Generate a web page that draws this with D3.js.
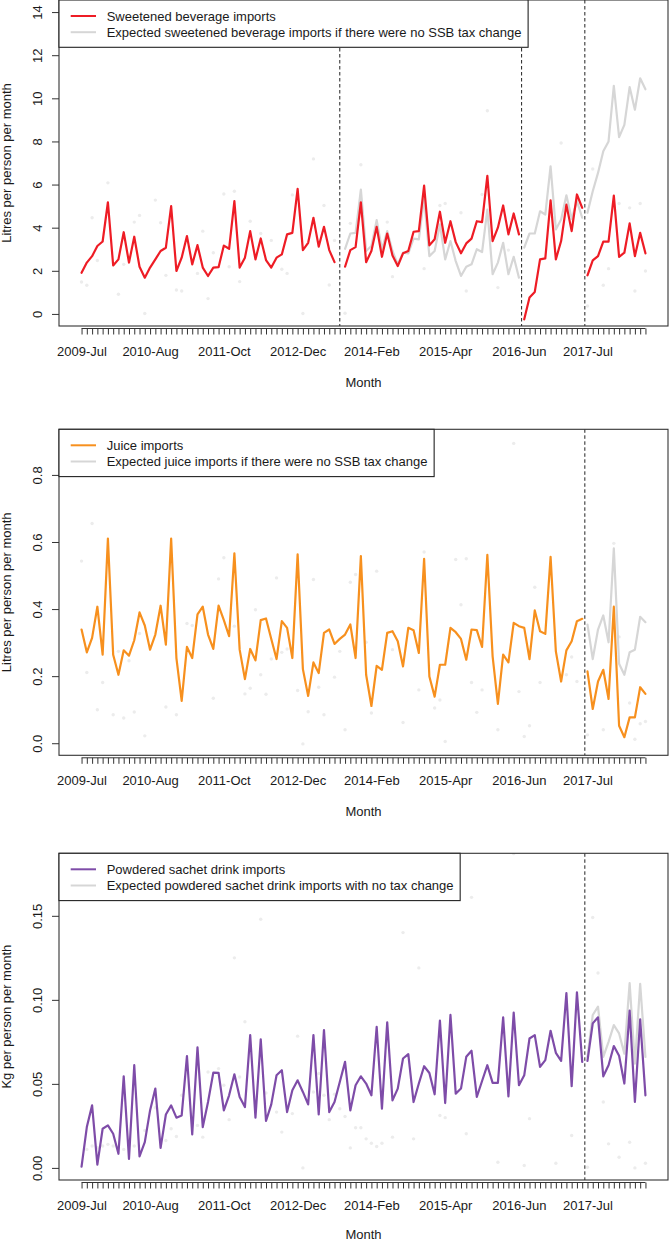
<!DOCTYPE html>
<html><head><meta charset="utf-8">
<script src="https://cdn.jsdelivr.net/npm/d3@7"></script>
<style>
body{margin:0;background:#fff}
text{font-family:"Liberation Sans",Arial,Helvetica,sans-serif;fill:#1a1a1a}
</style>
</head><body>
<svg id="chart" width="669" height="1240"></svg>
<script>
// ---------- categories ----------
const months = d3.timeMonth.range(new Date(2009,6,1), new Date(2018,6,1)).map(d3.timeFormat("%Y-%b"));
const tickLabels = ["2009-Jul","2010-Aug","2011-Oct","2012-Dec","2014-Feb","2015-Apr","2016-Jun","2017-Jul"];

// ---------- panel 1: sweetened beverages (litres / person / month) ----------
const sweetened = [1.91,2.38,2.68,3.15,3.36,5.18,2.25,2.53,3.79,2.38,3.58,2.19,1.68,2.15,2.53,2.92,3.07,5.0,1.99,2.61,3.61,2.3,3.19,2.15,1.76,2.15,2.17,3.17,3.02,5.23,2.15,2.61,3.84,2.53,3.5,2.5,2.15,2.61,2.76,3.69,3.76,5.8,2.96,3.3,4.46,3.12,4.04,2.96,2.4,null,
2.19,2.96,3.1,5.18,2.4,2.92,4.04,2.65,3.73,2.71,2.22,2.81,2.92,3.81,3.84,5.95,3.18,3.46,4.74,3.3,4.3,3.33,2.81,3.27,3.49,4.3,4.26,6.4,3.38,4.0,5.03,3.69,4.66,3.69,
-0.25,0.76,1.02,2.53,2.58,5.27,2.53,3.38,5.07,3.84,5.54,4.92,
1.79,2.48,2.68,3.35,3.35,5.49,2.65,2.84,4.2,2.68,3.76,2.81];
const expectedSweetened = [null,null,null,null,null,null,null,null,null,null,null,null,null,null,null,null,null,null,null,null,null,null,null,null,null,null,null,null,null,null,null,null,null,null,null,null,null,null,null,null,null,null,null,null,null,null,null,null,null,null,
3.02,3.73,3.76,5.77,2.92,3.15,4.35,3.0,3.84,2.92,2.3,2.84,2.81,3.49,3.46,5.38,2.68,2.92,4.15,2.53,3.38,2.45,1.76,2.19,2.3,3.0,2.87,4.84,1.84,2.38,3.3,1.84,2.65,1.68,
3.07,3.73,3.73,4.76,4.61,6.85,3.92,4.38,5.5,4.41,5.23,4.46,
4.69,5.69,6.54,7.54,8.0,10.58,8.2,8.77,10.52,9.47,10.93,10.42];
const faintSweetened = [[0,1.48],[1,1.33],[2,4.46],[3,2.48],[5,6.08],[7,0.91],[8,2.3],[10,4.26],[11,4.57],[12,0.02],[14,5.28],[15,4.23],[16,1.79],[18,1.11],[19,1.06],[22,1.88],[23,3.84],[24,0.71],[25,2.84],[27,5.56],[28,2.19],[29,5.69],[30,1.5],[32,4.3],[34,3.73],[36,3.41],[38,2.07],[39,1.88],[40,5.52],[42,0.02],[44,7.19],[46,5.03],[47,1.34],[48,3.41],[50,0.03],[51,4.2],[53,6.92],[58,4.26],[59,1.73],[65,2.1],[68,5.03],[69,5.12],[72,4.69],[73,1.06],[76,5.54],[77,9.42],[79,1.22],[81,2.96],[91,7.93],[96,0.37],[97,6.72],[99,1.33],[100,2.1],[102,5.12],[104,4.92],[105,1.06],[106,5.12],[107,1.99]];
const yTicks1 = [0,2,4,6,8,10,12,14];

// ---------- panel 2: juice (litres / person / month) ----------
const juice = [0.339,0.271,0.314,0.407,0.264,0.61,0.264,0.204,0.277,0.261,0.307,0.39,0.351,0.279,0.324,0.41,0.294,0.61,0.254,0.126,0.287,0.254,0.384,0.407,0.324,0.281,0.41,0.367,0.319,0.566,0.279,0.191,0.281,0.247,0.367,0.372,0.311,0.251,0.364,0.344,0.254,0.563,0.221,0.141,0.241,0.209,0.329,0.339,0.296,0.311,0.324,0.354,0.254,0.558,0.204,0.111,0.231,0.219,0.329,0.334,0.304,0.229,0.344,0.337,0.269,0.55,0.199,0.139,0.234,0.234,0.344,0.331,0.311,0.249,0.339,0.337,0.287,0.562,0.259,0.117,0.264,0.241,0.359,0.349,0.344,0.251,0.396,0.334,0.326,0.556,0.274,0.184,0.277,0.304,0.364,0.371,
0.214,0.102,0.184,0.219,0.132,0.407,0.052,0.018,0.077,0.077,0.167,0.147];
const expectedJuice = Array(96).fill(null).concat([0.354,0.251,0.339,0.381,0.301,0.581,0.237,0.204,0.271,0.279,0.377,0.361]);
const faintJuice = [[0,0.543],[1,0.211],[2,0.655],[3,0.1],[4,0.181],[6,0.085],[7,0.274],[8,0.075],[9,0.246],[10,0.093],[11,0.327],[12,0.022],[16,0.108],[18,0.085],[20,0.357],[21,0.351],[25,0.134],[26,0.49],[27,0.553],[29,0.349],[31,0.147],[32,0.164],[33,0.398],[34,0.204],[35,0.146],[36,0.251],[37,0.493],[38,0.271],[39,0.281],[41,0.157],[42,-0.002],[43,0.094],[44,0.488],[45,0.167],[46,0.085],[48,0.197],[49,0.274],[50,0.04],[51,0.48],[52,0.503],[54,0.301],[55,0.09],[56,0.513],[59,0.279],[61,0.062],[64,0.159],[65,0.57],[67,0.105],[68,0.129],[69,0.005],[71,0.548],[72,0.413],[73,0.55],[74,0.181],[75,0.092],[76,0.159],[79,0.04],[82,0.894],[83,0.154],[84,0.02],[85,0.052],[86,0.465],[87,0.181],[92,0.204],[93,0.257],[94,0.184],[96,0.025],[99,0.04],[101,0.596],[102,0.317],[104,0.12],[105,0.012],[106,0.058],[107,0.065]];
const yTicks2 = [0,0.2,0.4,0.6,0.8];

// ---------- panel 3: powdered sachet drinks (kg / person / month) ----------
const powder = [0.0008,0.0243,0.0372,0.002,0.0233,0.0253,0.0203,0.0084,0.0545,0.0054,0.0611,0.0068,0.0153,0.0342,0.0472,0.0119,0.0318,0.0372,0.0299,0.0312,0.0665,0.0199,0.0717,0.0243,0.0392,0.0567,0.0565,0.0342,0.0432,0.0557,0.0422,0.0362,0.079,0.0299,0.0765,0.0279,0.0378,0.0551,0.0581,0.0332,0.0462,0.0521,0.0452,0.0378,0.079,0.0318,0.082,0.0332,0.0392,0.0511,0.0631,0.0342,0.0492,0.0545,0.0502,0.0432,0.084,0.0352,0.0866,0.0402,0.0472,0.0651,0.0677,0.0392,0.0502,0.0605,0.0565,0.0438,0.0876,0.0386,0.091,0.0442,0.0472,0.0661,0.0697,0.0422,0.0517,0.0611,0.0506,0.0506,0.0896,0.0426,0.0924,0.0492,0.0551,0.077,0.079,0.0601,0.0641,0.0816,0.0685,0.0637,0.104,0.0486,0.1045,0.0631,
0.0637,0.086,0.0896,0.0545,0.0611,0.0725,0.0667,0.0502,0.0936,0.0392,0.0884,0.0432];
const expectedPowder = Array(96).fill(null).concat([0.066,0.091,0.096,0.066,0.075,0.085,0.08,0.068,0.110,0.062,0.1095,0.066]);
const faintPowder = [[1,0.011],[2,0.013],[3,0.012],[4,0.013],[5,0.014],[6,0.013],[7,0.012],[8,0.011],[10,0.013],[12,0.0223],[14,0.0358],[16,0.0163],[17,0.0233],[18,0.0187],[19,0.0432],[22,0.0253],[23,0.0183],[24,0.0571],[26,0.0591],[27,0.0492],[28,0.0287],[29,0.125],[30,0.0541],[31,0.087],[34,0.148],[35,0.0446],[37,0.0332],[38,0.0213],[40,0.0323],[41,0.0784],[42,0],[44,0.0452],[45,0.0562],[46,0.0432],[47,0.0287],[48,0.0438],[49,0.0352],[50,0.0306],[51,0.0119],[52,0.0239],[53,0.0239],[54,0.0173],[55,0.0147],[56,0.0127],[57,0.0147],[59,0.0183],[61,0.14],[63,0.0173],[64,0.119],[68,0.0312],[69,0.0299],[73,0.0203],[74,0.161],[79,0.0034],[82,0.187],[84,0.0014],[85,0.0293],[90,0.0028],[93,0.0193],[96,0.0004],[97,0.149],[98,0.116],[99,0.0392],[100,0.0143],[102,0.0063],[104,0.0153],[105,0],[107,0.0028]];
const yTicks3 = [0,0.05,0.10,0.15];

// ---------- styling / layout ----------
const W = 669, H = 1240, L = 59, R = 668;
const grayLine = "#d6d6d6", faintCol = "#ececec";
const panels = [
  {top:0, bottom:326, ylim:[0,14], ticks:yTicks1, fmt:d3.format("d"), ytitle:"Litres per person per month",
   actual:sweetened, expected:expectedSweetened, faint:faintSweetened, color:"#ee1c25",
   breaks:[83,95], vlines:[49,83.5,95.5],
   legend:["Sweetened beverage imports","Expected sweetened beverage imports if there were no SSB tax change"]},
  {top:429.3, bottom:755.3, ylim:[0,0.9], ticks:yTicks2, fmt:d3.format(".1f"), ytitle:"Litres per person per month",
   actual:juice, expected:expectedJuice, faint:faintJuice, color:"#f7901e",
   breaks:[95], vlines:[95.5],
   legend:["Juice imports","Expected juice imports if there were no SSB tax change"]},
  {top:853.3, bottom:1180, ylim:[0,0.18], ticks:yTicks3, fmt:d3.format(".2f"), ytitle:"Kg per person per month",
   actual:powder, expected:expectedPowder, faint:faintPowder, color:"#7e4ca8",
   breaks:[95], vlines:[95.5],
   legend:["Powdered sachet drink imports","Expected powdered sachet drink imports with no tax change"]}
];

const svg = d3.select("#chart");
const n = months.length;
const pad = 0.04*(n-1);
const x = d3.scaleLinear().domain([-pad, n-1+pad]).range([L, R]);

function segments(vals, breaks){
  const segs=[]; let cur=[];
  vals.forEach((v,i)=>{
    if(v===null || breaks.includes(i-1)){ if(cur.length) segs.push(cur); cur=[]; }
    if(v!==null) cur.push([i,v]);
  });
  if(cur.length) segs.push(cur);
  return segs;
}
const FONT = "'Liberation Sans',Arial,Helvetica,sans-serif";

panels.forEach((p,pi)=>{
  const r = p.ylim[1]-p.ylim[0];
  const y = d3.scaleLinear().domain([p.ylim[0]-0.04*r, p.ylim[1]+0.04*r]).range([p.bottom, p.top]);
  const g = svg.append("g");
  const clipId = "clip"+pi;
  g.append("clipPath").attr("id",clipId).append("rect")
    .attr("x",L).attr("y",p.top).attr("width",R-L).attr("height",p.bottom-p.top);
  const plot = g.append("g").attr("clip-path",`url(#${clipId})`);

  // faint points
  plot.selectAll("circle.f").data(p.faint).join("circle")
    .attr("cx",d=>x(d[0])).attr("cy",d=>y(d[1])).attr("r",1.7).attr("fill",faintCol);

  const line = d3.line().x(d=>x(d[0])).y(d=>y(d[1]));
  plot.selectAll("path.e").data(segments(p.expected,p.breaks)).join("path")
    .attr("d",line).attr("fill","none").attr("stroke",grayLine).attr("stroke-width",2.2)
    .attr("stroke-linejoin","round").attr("stroke-linecap","round");
  plot.selectAll("path.a").data(segments(p.actual,p.breaks)).join("path")
    .attr("d",line).attr("fill","none").attr("stroke",p.color).attr("stroke-width",2.2)
    .attr("stroke-linejoin","round").attr("stroke-linecap","round");

  plot.selectAll("line.v").data(p.vlines).join("line")
    .attr("x1",d=>x(d)).attr("x2",d=>x(d)).attr("y1",p.top).attr("y2",p.bottom)
    .attr("stroke","#222").attr("stroke-width",1).attr("stroke-dasharray","3.5,2.5");

  g.append("rect").attr("x",L).attr("y",p.top).attr("width",R-L).attr("height",p.bottom-p.top)
    .attr("fill","none").attr("stroke","#333").attr("stroke-width",1.1);

  // y axis
  const ya = g.append("g").attr("transform",`translate(${L},0)`)
    .call(d3.axisLeft(y).tickValues(p.ticks).tickSize(7).tickFormat(p.fmt));
  ya.select(".domain").remove();
  ya.selectAll(".tick line").attr("stroke","#333");
  ya.selectAll(".tick text").attr("x",null).attr("dy",null)
    .attr("transform","translate(-17.3,0) rotate(-90)").attr("text-anchor","middle")
    .style("font-size","13px").attr("fill","#1a1a1a").style("font-family",FONT);

  // x axis
  const axY = p.bottom + 2.5;
  const xa = g.append("g").attr("transform",`translate(0,${axY})`)
    .call(d3.axisBottom(x).tickValues(d3.range(n)).tickSize(6)
      .tickFormat(i=> tickLabels.includes(months[i]) ? months[i] : ""));
  xa.select(".domain").remove();
  xa.append("line").attr("x1",x(0)).attr("x2",x(n-1)).attr("stroke","#333");
  xa.selectAll(".tick line").attr("stroke","#333");
  xa.selectAll(".tick text").attr("y",27.2).attr("dy",null)
    .style("font-size","13px").attr("fill","#1a1a1a").style("font-family",FONT);

  // axis titles
  g.append("text").attr("x",(L+R)/2).attr("y",Math.min(p.bottom+60.5, H-1.5)).attr("text-anchor","middle")
    .style("font-size","13px").text("Month");
  g.append("text").attr("transform",`translate(11,${(p.top+p.bottom)/2}) rotate(-90)`)
    .attr("text-anchor","middle").style("font-size","13px").text(p.ytitle);

  // legend
  const lg = g.append("g");
  const box = lg.append("rect").attr("x",L).attr("y",p.top).attr("height",47.3)
    .attr("fill","#fff").attr("stroke","#222").attr("stroke-width",1.1);
  const cols = [p.color, grayLine];
  let maxW = 0;
  p.legend.forEach((t,k)=>{
    const cy = p.top + 16 + k*16.2;
    lg.append("line").attr("x1",70.7).attr("x2",96).attr("y1",cy).attr("y2",cy)
      .attr("stroke",cols[k]).attr("stroke-width",2);
    const tx = lg.append("text").attr("x",106.7).attr("y",cy+4.7).style("font-size","13px").text(t);
    maxW = Math.max(maxW, tx.node().getComputedTextLength());
  });
  box.attr("width", 106.7 + maxW + 6.6 - L);
});
</script>
</body></html>
